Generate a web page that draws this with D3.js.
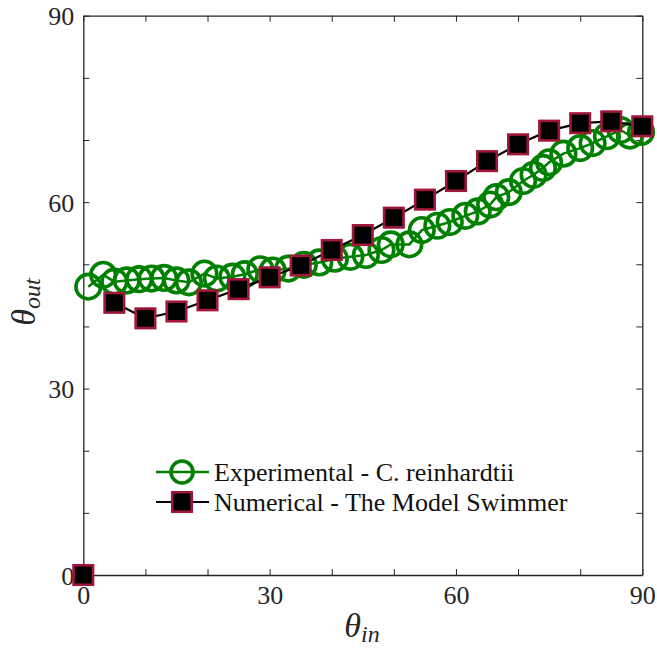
<!DOCTYPE html>
<html><head><meta charset="utf-8">
<script src="https://cdn.jsdelivr.net/npm/d3@7"></script>
<style>body{margin:0;background:#fff}svg{display:block}</style>
</head><body><svg id="c" width="657" height="648" font-family="Liberation Serif"></svg>
<script>
const expX = [0.8,3.2,5,7,9,11,13,15,17,19.5,21.5,24,26,28.5,30.5,33,35.5,38,40.5,43,45.5,48,49.5,52.5,54.5,57,59,61.5,63.5,65.5,66.5,68.5,70.8,72.5,74,75,77.3,80,82,84.3,86.5,88,89.8];
const expY = [46.4,48.3,47.2,47.4,47.6,47.7,47.8,47.4,47.1,48.5,47.7,48.0,48.4,49.2,49.0,49.3,49.9,50.3,50.9,51.2,51.5,52.3,53.2,53.2,55.5,56.2,56.8,57.8,58.5,59.6,60.8,61.6,63.4,64.4,65.5,66.4,67.8,68.7,69.5,70.6,71.6,70.7,71.3];
const numX = [0,5,10,15,20,25,30,35,40,45,50,55,60,65,70,75,80,85,90];
const numY = [0,43.8,41.3,42.4,44.2,46.0,47.9,49.8,52.3,54.7,57.5,60.4,63.4,66.6,69.3,71.5,72.7,73.0,72.2];
const xTicks = [0,10,20,30,40,50,60,70,80,90];
const yTicks = [0,10,20,30,40,50,60,70,80,90];
const labeledTicks = [0,30,60,90];
const legendLabels = ["Experimental - C. reinhardtii","Numerical - The Model Swimmer"];

const FONT = "Liberation Serif";
const svg = d3.select("#c");
const L=83.3, R=642.3, T=15.7, B=575;
const x = d3.scaleLinear().domain([0,90]).range([L,R]);
const y = d3.scaleLinear().domain([0,90]).range([B,T]);
const axisColor="#262626";
const fmt = d => labeledTicks.includes(d) ? d : "";

function styleAxis(g){
  g.attr("font-family",FONT).attr("font-size",26);
  g.select(".domain").attr("stroke",axisColor).attr("stroke-width",1.3);
  g.selectAll(".tick line").attr("stroke",axisColor).attr("stroke-width",1);
  g.selectAll(".tick text").attr("font-family",FONT).attr("font-size",26).attr("fill","#262626");
}
svg.append("g").attr("transform",`translate(0,${B})`)
  .call(d3.axisBottom(x).tickValues(xTicks).tickFormat(fmt).tickSizeInner(-6).tickSizeOuter(0))
  .call(styleAxis).call(g=>g.selectAll(".tick text").attr("dy","0.71em").attr("y",11));
svg.append("g").attr("transform",`translate(0,${T})`)
  .call(d3.axisTop(x).tickValues(xTicks).tickFormat("").tickSizeInner(-6).tickSizeOuter(0))
  .call(styleAxis);
svg.append("g").attr("transform",`translate(${L},0)`)
  .call(d3.axisLeft(y).tickValues(yTicks).tickFormat(fmt).tickSizeInner(-6).tickSizeOuter(0))
  .call(styleAxis).call(g=>g.selectAll(".tick text").attr("x",-9).attr("dy","0.35em"));
svg.append("g").attr("transform",`translate(${R},0)`)
  .call(d3.axisRight(y).tickValues(yTicks).tickFormat("").tickSizeInner(-6).tickSizeOuter(0))
  .call(styleAxis);

const green="#008000", crimson="#A0173A";
const expData = expX.map((v,i)=>[v,expY[i]]);
const numData = numX.map((v,i)=>[v,numY[i]]);
const line = d3.line().x(d=>x(d[0])).y(d=>y(d[1]));

svg.append("path").datum(expData).attr("d",line).attr("fill","none").attr("stroke",green).attr("stroke-width",2.5);
svg.append("g").selectAll("circle").data(expData).join("circle")
  .attr("cx",d=>x(d[0])).attr("cy",d=>y(d[1])).attr("r",12.3)
  .attr("fill","none").attr("stroke",green).attr("stroke-width",3.6);

// line omits the isolated (0,0) point, as in the reference
svg.append("path").datum(numData.filter(d=>d[0]>0)).attr("d",line).attr("fill","none").attr("stroke","#000").attr("stroke-width",2.2);
const sq=19.5;
svg.append("g").selectAll("rect").data(numData).join("rect")
  .attr("x",d=>x(d[0])-sq/2).attr("y",d=>y(d[1])-sq/2).attr("width",sq).attr("height",sq)
  .attr("fill","#000").attr("stroke",crimson).attr("stroke-width",2.6);

// legend
const lg = svg.append("g");
const lx1=156, lx2=209, lmx=182;
[472,502].forEach((ly,i)=>{
  lg.append("line").attr("x1",lx1).attr("x2",lx2).attr("y1",ly).attr("y2",ly)
    .attr("stroke", i===0?green:"#000").attr("stroke-width", i===0?2.5:2.2);
  if(i===0) lg.append("circle").attr("cx",lmx).attr("cy",ly).attr("r",11).attr("fill","none").attr("stroke",green).attr("stroke-width",3.6);
  else lg.append("rect").attr("x",lmx-sq/2).attr("y",ly-sq/2).attr("width",sq).attr("height",sq).attr("fill","#000").attr("stroke",crimson).attr("stroke-width",2.6);
  lg.append("text").attr("x",214).attr("y",ly).attr("dy","0.33em").attr("font-family",FONT).attr("font-size",26).attr("fill","#111").text(legendLabels[i]);
});

// axis labels
const xl = svg.append("text").attr("x",362).attr("y",637).attr("text-anchor","middle").attr("font-family",FONT).attr("font-size",34).attr("fill","#262626");
xl.append("tspan").attr("font-style","italic").text("θ");
xl.append("tspan").attr("font-style","italic").attr("font-size",24).attr("dy","5").text("in");
const yl = svg.append("text").attr("transform","translate(35,302) rotate(-90)").attr("text-anchor","middle").attr("font-family",FONT).attr("font-size",34).attr("fill","#262626");
yl.append("tspan").attr("font-style","italic").text("θ");
yl.append("tspan").attr("font-style","italic").attr("font-size",24).attr("dy","5").text("out");
</script></body></html>
